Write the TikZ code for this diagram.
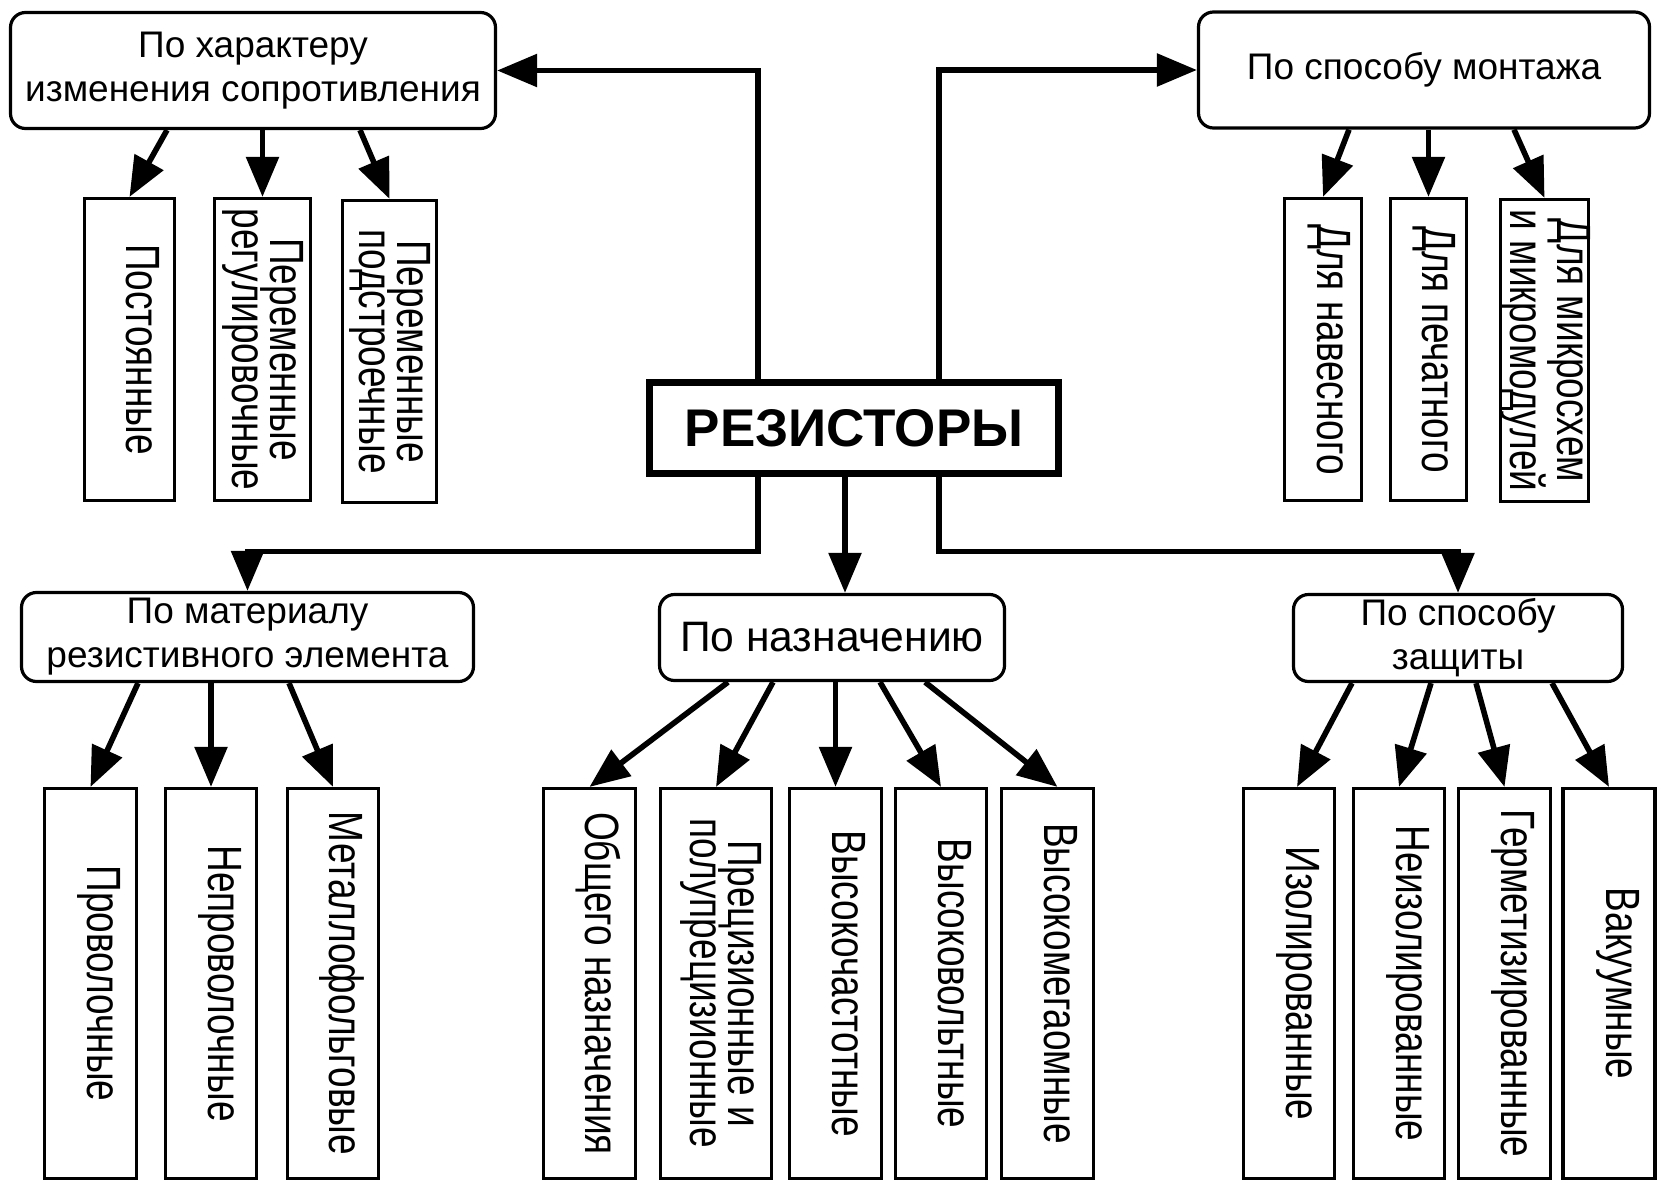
\documentclass[tikz,border=0pt]{standalone}
\usepackage{fontspec}
\usepackage{graphicx}
\setmainfont{Liberation Sans}
\usetikzlibrary{positioning,arrows.meta}

\newcommand{\vtext}[2][8pt]{\makebox[0pt]{\hspace*{#1}\rotatebox{-90}{\scalebox{1}[1.3]{\begin{tabular}{@{}c@{}}#2\end{tabular}}}}}

\begin{document}
\begin{tikzpicture}[x=0.5pt,y=-0.5pt,
    font=\fontsize{18.5}{22}\selectfont,
    group/.style={draw,line width=1.6pt,rounded corners=7.5pt,align=center,inner sep=0pt},
    leaf/.style={draw,line width=1.6pt,inner sep=0pt,font=\fontsize{18.5}{14.6}\selectfont},
    toprow/.style={leaf,minimum height=151pt},
    botrow/.style={leaf,minimum height=195pt},
    arr/.style={line width=2.8pt,-{Triangle[length=20pt,width=16pt]}}]
          \useasboundingbox (0,0) rectangle (1657,1182);

          \draw (854, 428) node[draw,line width=3.5pt,minimum width=204.5pt,
          minimum height=45.5pt,font=\fontsize{26.5}{30}\selectfont\bfseries] (rez) {РЕЗИСТОРЫ};

          % groups
          \draw (253, 70.5) node[group,minimum width=242.5pt,minimum height=58pt] (kharakter)
          {По характеру\\изменения сопротивления};

          \draw (1424, 70) node[group,minimum width=225.5pt,minimum height=58pt] (montazh)
          {По способу монтажа};

          \draw (247.5, 637) node[group,minimum width=226pt,minimum height=44.5pt] (material)
          {По материалу\\резистивного элемента};

          \draw (832, 637.5) node[group,minimum width=172.5pt,minimum height=43pt,
          font=\fontsize{21.3}{24}\selectfont] (naznach) {По назначению};

          \draw (1458, 638) node[group,minimum width=164.5pt,minimum height=43.5pt] (zashch)
          {По способу\\защиты};

          % top row
          \draw (129.5, 349.5) node[toprow,minimum width=45pt] (post) {\vtext{Постоянные}};

          \draw (262.5, 349.5) node[toprow,minimum width=48pt] (regul)
          {\vtext[0pt]{Переменные\\регулировочные}};

          \draw (389.5, 351.5) node[toprow,minimum width=47pt] (podstr)
          {\vtext[0pt]{Переменные\\подстроечные}};

          \draw (1323, 349.5) node[toprow,minimum width=38.5pt] (navesn) {\vtext[5pt]{Для навесного}};

          \draw (1428.5, 349.5) node[toprow,minimum width=38pt] (pechat) {\vtext[5pt]{Для печатного}};

          \draw (1544.5, 350.5) node[toprow,minimum width=44pt] (mikro)
          {\vtext[0pt]{Для микросхем\\и микромодулей}};

          % bottom row
          \draw (90.5, 983.5) node[botrow,minimum width=46pt] (provol) {\vtext{Проволочные}};

          \draw (211, 983.5) node[botrow,minimum width=45.5pt] (neprovol) {\vtext{Непроволочные}};

          \draw (333, 983.5) node[botrow,minimum width=45.5pt] (metfol) {\vtext{Металлофольговые}};

          \draw (589.5, 983.5) node[botrow,minimum width=46pt] (obshch) {\vtext{Общего назначения}};

          \draw (716, 983.5) node[botrow,minimum width=55.5pt] (precis)
          {\vtext[4pt]{Прецизионные и\\полупрецизионные}};

          \draw (835.5, 983.5) node[botrow,minimum width=46pt] (vch) {\vtext{Высокочастотные}};

          \draw (941, 983.5) node[botrow,minimum width=45.5pt] (vv) {\vtext{Высоковольтные}};

          \draw (1047.5, 983.5) node[botrow,minimum width=46pt] (vmo) {\vtext{Высокомегаомные}};

          \draw (1289, 983.5) node[botrow,minimum width=45.5pt] (izol) {\vtext{Изолированные}};

          \draw (1399, 983.5) node[botrow,minimum width=45.5pt] (neizol) {\vtext{Неизолированные}};

          \draw (1504.5, 983.5) node[botrow,minimum width=46pt] (germ) {\vtext{Герметизированные}};

          \draw (1609, 983.5) node[botrow,minimum width=46pt] (vakuum) {\vtext{Вакуумные}};

          % from the centre
          \draw[arr] ([xshift=-48pt]rez.north) |- (kharakter.east);
          \draw[arr] ([xshift=42.5pt]rez.north) |- (montazh.west);
          \draw[arr] ([xshift=-48pt]rez.south) -- ++(0,74.5) -| (material.north);
          \draw[arr] ([xshift=-4.5pt]rez.south) to ([xshift=-4.5pt]rez.south |- naznach.north);
          \draw[arr] ([xshift=42.5pt]rez.south) -- ++(0,74.5) -| (zashch.north);

          % to the leaves
          \draw[arr] ([xshift=-43pt]kharakter.south) to (post.north);
          \draw[arr] (regul.north |- kharakter.south) to (regul.north);
          \draw[arr] ([xshift=53.5pt]kharakter.south) to (podstr.north);

          \draw[arr] ([xshift=-37.5pt]montazh.south) to (navesn.north);
          \draw[arr] (pechat.north |- montazh.south) to (pechat.north);
          \draw[arr] ([xshift=45pt]montazh.south) to (mikro.north);

          \draw[arr] ([xshift=-54.75pt]material.south) to (provol.north);
          \draw[arr] (neprovol.north |- material.south) to (neprovol.north);
          \draw[arr] ([xshift=20.75pt]material.south) to (metfol.north);

          \draw[arr] ([xshift=-52pt]naznach.south) to (obshch.north);
          \draw[arr] ([xshift=-29.5pt]naznach.south) to (precis.north);
          \draw[arr] (vch.north |- naznach.south) to (vch.north);
          \draw[arr] ([xshift=24pt]naznach.south) to (vv.north);
          \draw[arr] ([xshift=46.5pt]naznach.south) to ([xshift=5pt]vmo.north);

          \draw[arr] ([xshift=-53pt]zashch.south) to ([xshift=4pt]izol.north);
          \draw[arr] ([xshift=-13.5pt]zashch.south) to (neizol.north);
          \draw[arr] ([xshift=9pt]zashch.south) to (germ.north);
          \draw[arr] ([xshift=47pt]zashch.south) to (vakuum.north);
        \end{tikzpicture}
\end{document}
